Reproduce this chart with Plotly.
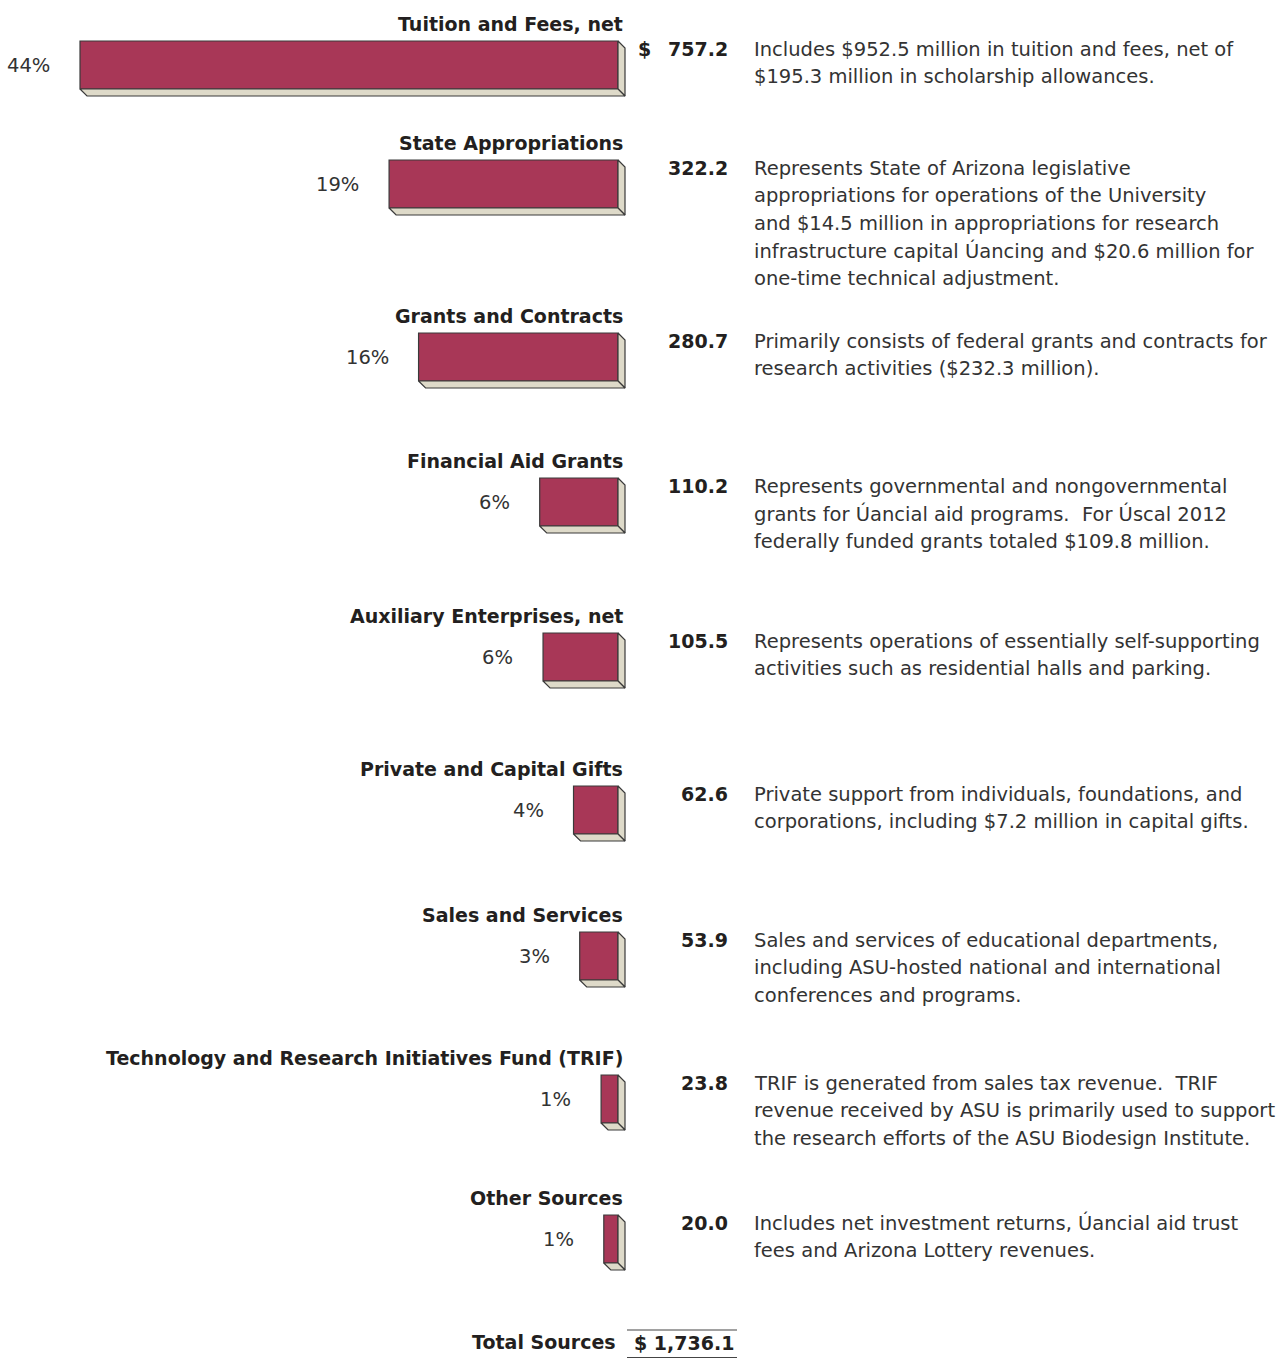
import plotly.graph_objects as go

# Sources of operating revenue, fiscal 2012 ($ millions)
categories = [
    "Tuition and Fees, net",
    "State Appropriations",
    "Grants and Contracts",
    "Financial Aid Grants",
    "Auxiliary Enterprises, net",
    "Private and Capital Gifts",
    "Sales and Services",
    "Technology and Research Initiatives Fund (TRIF)",
    "Other Sources",
]
amounts = [757.2, 322.2, 280.7, 110.2, 105.5, 62.6, 53.9, 23.8, 20.0]
percents = [44, 19, 16, 6, 6, 4, 3, 1, 1]
descriptions = [
    ["Includes $952.5 million in tuition and fees, net of",
     "$195.3 million in scholarship allowances."],
    ["Represents State of Arizona legislative",
     "appropriations for operations of the University",
     "and $14.5 million in appropriations for research",
     "infrastructure capital Úancing and $20.6 million for",
     "one-time technical adjustment."],
    ["Primarily consists of federal grants and contracts for",
     "research activities ($232.3 million)."],
    ["Represents governmental and nongovernmental",
     "grants for Úancial aid programs.  For Úscal 2012",
     "federally funded grants totaled $109.8 million."],
    ["Represents operations of essentially self-supporting",
     "activities such as residential halls and parking."],
    ["Private support from individuals, foundations, and",
     "corporations, including $7.2 million in capital gifts."],
    ["Sales and services of educational departments,",
     "including ASU-hosted national and international",
     "conferences and programs."],
    ["TRIF is generated from sales tax revenue.  TRIF",
     "revenue received by ASU is primarily used to support",
     "the research efforts of the ASU Biodesign Institute."],
    ["Includes net investment returns, Úancial aid trust",
     "fees and Arizona Lottery revenues."],
]
total_label = "Total Sources"
total_amount = "$ 1,736.1"

# ---- layout (pixel space for the vertical axis) ----
W, H = 1285, 1359
ROW_TOPS = [41, 160, 333, 478, 633, 786, 932, 1075, 1215]
BAR_H = 48
PX_PER_UNIT = 0.7105          # horizontal scale of the bars
ZERO_PX = 618                 # right edge of the bar fronts
DEPTH_PX = 7                  # extrusion of the 3-D faces
LINE_GAP = 27.5

FRONT = "#A83757"
SIDE = "#DEDAC9"
EDGE = "#3a3a3a"
TEXT = "#231F20"
BODY = "#333333"
FONT = "DejaVu Sans"
FS_BOLD = 19
FS_BODY = 19.5

def px_to_x(px):
    return (px - ZERO_PX) / PX_PER_UNIT

dx = DEPTH_PX / PX_PER_UNIT
centers = [t + BAR_H / 2 for t in ROW_TOPS]

fig = go.Figure()

# front faces
fig.add_trace(go.Bar(
    orientation="h",
    y=centers,
    x=amounts,
    base=[-v for v in amounts],
    width=BAR_H,
    marker=dict(color=FRONT, line=dict(color=EDGE, width=1.2)),
    hoverinfo="skip",
))

# right side faces and bottom faces of the extrusion
side_x, side_y, bot_x, bot_y = [], [], [], []
for v, top in zip(amounts, ROW_TOPS):
    bottom = top + BAR_H
    side_x += [0, dx, dx, 0, 0, None]
    side_y += [top, top + DEPTH_PX, bottom + DEPTH_PX, bottom, top, None]
    bot_x += [-v, 0, dx, -v + dx, -v, None]
    bot_y += [bottom, bottom, bottom + DEPTH_PX, bottom + DEPTH_PX, bottom, None]

for xs, ys in ((side_x, side_y), (bot_x, bot_y)):
    fig.add_trace(go.Scatter(
        x=xs, y=ys, mode="lines", fill="toself", fillcolor=SIDE,
        line=dict(color=EDGE, width=1.2), hoverinfo="skip",
    ))

ann = []
x_label = px_to_x(625)
x_value = px_to_x(730)
x_desc = px_to_x(752)
for i, (cat, v, p, desc, top) in enumerate(zip(categories, amounts, percents, descriptions, ROW_TOPS)):
    c = top + BAR_H / 2
    ann.append(dict(x=x_label, y=top - 17, text=f"<b>{cat}</b>", xanchor="right",
                    yanchor="middle", showarrow=False,
                    font=dict(family=FONT, size=FS_BOLD, color=TEXT)))
    ann.append(dict(x=-v, y=c, text=f"{p}%", xanchor="right", yanchor="middle",
                    xshift=-28, showarrow=False,
                    font=dict(family=FONT, size=FS_BODY, color=BODY)))
    ann.append(dict(x=x_value, y=top + 8, text=f"<b>{v:.1f}</b>", xanchor="right",
                    yanchor="middle", showarrow=False,
                    font=dict(family=FONT, size=FS_BOLD, color=TEXT)))
    if i == 0:
        ann.append(dict(x=px_to_x(636), y=top + 8, text="<b>$</b>", xanchor="left",
                        yanchor="middle", showarrow=False,
                        font=dict(family=FONT, size=FS_BOLD, color=TEXT)))
    for j, line in enumerate(desc):
        ann.append(dict(x=x_desc, y=top + 8 + j * LINE_GAP, text=line, xanchor="left",
                        yanchor="middle", showarrow=False,
                        font=dict(family=FONT, size=FS_BODY, color=BODY)))

# total row
ann.append(dict(x=px_to_x(618), y=1342, text=f"<b>{total_label}</b>", xanchor="right",
                yanchor="middle", showarrow=False,
                font=dict(family=FONT, size=FS_BOLD, color=TEXT)))
ann.append(dict(x=px_to_x(632), y=1343, text=f"<b>{total_amount}</b>", xanchor="left",
                yanchor="middle", showarrow=False,
                font=dict(family=FONT, size=FS_BOLD, color=TEXT)))

shapes = [
    dict(type="line", xref="x", yref="y", x0=px_to_x(627), x1=px_to_x(737),
         y0=1330, y1=1330, line=dict(color="#444444", width=1.2)),
    dict(type="line", xref="x", yref="y", x0=px_to_x(627), x1=px_to_x(737),
         y0=1357.5, y1=1357.5, line=dict(color="#444444", width=1.2)),
]

fig.update_layout(
    width=W, height=H,
    margin=dict(l=0, r=0, t=0, b=0),
    paper_bgcolor="white", plot_bgcolor="white",
    showlegend=False,
    xaxis=dict(range=[px_to_x(0), px_to_x(W)], visible=False, fixedrange=True),
    yaxis=dict(range=[H, 0], visible=False, fixedrange=True),
    annotations=ann,
    shapes=shapes,
)

fig.write_html("out.html")
